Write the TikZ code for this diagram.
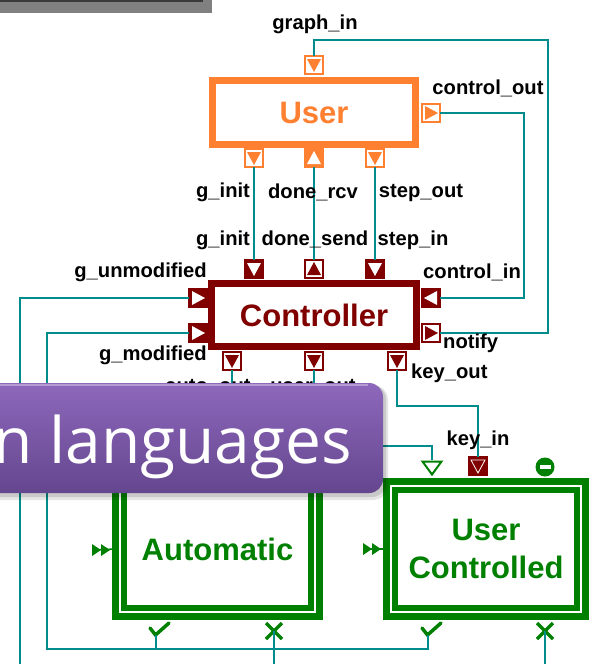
\documentclass[tikz,border=0pt]{standalone}
\usepackage{fontspec}
\setmainfont{Liberation Sans}
\newfontfamily\bannerfont{Open Sans}
\usetikzlibrary{calc}
\definecolor{wire}{RGB}{0,140,140}
\definecolor{usr}{RGB}{255,128,48}
\definecolor{ctl}{RGB}{128,0,0}
\definecolor{stc}{RGB}{0,128,0}
\definecolor{bantop}{RGB}{142,104,188}
\definecolor{banbot}{RGB}{100,70,142}
\definecolor{grayb}{RGB}{128,128,128}
\definecolor{darkb}{RGB}{58,58,58}
\newcommand\ptri[3]{\fill[#3,shift={(#1.center)},rotate=#2] (-7,-6) -- (7,-6) -- (0,7) -- cycle;}
\begin{document}
\begin{tikzpicture}[x=1pt,y=-1pt,
 lbl/.style={font=\bfseries\fontsize{20.2}{22}\selectfont,inner sep=0pt,text height=14pt,text depth=4pt},
 portout/.style={draw=#1,fill=white,line width=2pt,minimum size=18pt,inner sep=0pt,outer sep=0pt},
 portin/.style={draw=#1,fill=#1,line width=2pt,minimum size=18pt,inner sep=0pt,outer sep=0pt},
 conn/.style={draw=wire,line width=2pt},
 bigbox/.style={draw=#1,text=#1,fill=white,line width=7pt,inner sep=0pt,outer sep=0pt,font=\bfseries\fontsize{31}{36}\selectfont},
 statebox/.style={draw=stc,text=stc,fill=white,line width=7pt,inner sep=0pt,outer sep=0pt,minimum height=135pt,font=\bfseries\fontsize{31}{38}\selectfont,align=center},
 stcglyph/.style={draw=stc,line width=3.5pt}
]
\useasboundingbox (0,0) rectangle (590,664);
\clip (0,0) rectangle (590,664);
% top-left bar
\fill[grayb] (0,0) rectangle (212,13);
\fill[darkb] (0,0) rectangle (203,2);
% main boxes
\node[bigbox=usr,minimum width=203pt,minimum height=64pt] (user) at (314,112.5) {User};
\node[bigbox=ctl,minimum width=205pt,minimum height=63pt] (ctrl) at (314,315) {Controller};
% user ports
\node[portout=usr] (gin) at (314,65) {};
\node[portout=usr] (uginit) at (254,158) {};
\node[portin=usr] (udone) at (314,158) {};
\node[portout=usr] (ustep) at (375,158) {};
\node[portout=usr] (cout) at (431,113) {};
\ptri{gin}{0}{usr}
\ptri{uginit}{0}{usr}
\ptri{udone}{180}{white}
\ptri{ustep}{0}{usr}
\ptri{cout}{90}{usr}
% controller ports
\node[portin=ctl] (cginit) at (254,269) {};
\node[portout=ctl] (cdone) at (314,269) {};
\node[portin=ctl] (cstep) at (375,269) {};
\node[portin=ctl] (gunm) at (198,298) {};
\node[portin=ctl] (gmod) at (198,333) {};
\node[portin=ctl] (cin) at (431,298) {};
\node[portout=ctl] (notify) at (431,333) {};
\node[portout=ctl] (aout) at (232,361) {};
\node[portout=ctl] (uout) at (314,361) {};
\node[portout=ctl] (kout) at (397,361) {};
\ptri{cginit}{0}{white}
\ptri{cdone}{180}{ctl}
\ptri{cstep}{0}{white}
\ptri{gunm}{90}{white}
\ptri{gmod}{90}{white}
\ptri{cin}{270}{white}
\ptri{notify}{90}{ctl}
\ptri{aout}{0}{ctl}
\ptri{uout}{0}{ctl}
\ptri{kout}{0}{ctl}
% states
\node[statebox,minimum width=204pt] (auto) at (217.5,549) {Automatic};
\node[statebox,minimum width=199pt] (uc) at (486,549) {User\\Controlled};
\draw[stc,line width=5.5pt] ($(auto.north west)+(8.5,8.5)$) rectangle ($(auto.south east)+(-8.5,-8.5)$);
\draw[stc,line width=5.5pt] ($(uc.north west)+(8.5,8.5)$) rectangle ($(uc.south east)+(-8.5,-8.5)$);
% key_in port, input triangle, minus
\node[portin=ctl] (kin) at (478,466) {};
\filldraw[fill=ctl,draw=white,line width=0.8pt,shift={(kin.center)}] (-7,-6) -- (7,-6) -- (0,7) -- cycle;
\coordinate (uctri) at (432,460);
\draw[stc,line width=2pt,line join=miter,shift={(uctri)}] (-9.5,1.5) -- (9.5,1.5) -- (0,14.5) -- cycle;
\node[circle,fill=stc,minimum size=19pt,inner sep=0pt] (minus) at (545,467) {};
\fill[white] ($(minus.center)+(-5.5,-1.6)$) rectangle ($(minus.center)+(5.5,1.6)$);
% entry arrows
\fill[stc] (92,544) -- (101,550) -- (92,556) -- cycle;
\fill[stc] (101,544) -- (110,550) -- (101,556) -- cycle;
\draw[stc,line width=1.5pt] (92,550) -- (auto.west);
\fill[stc] (363,543) -- (372,549) -- (363,555) -- cycle;
\fill[stc] (372,543) -- (381,549) -- (372,555) -- cycle;
\draw[stc,line width=1.5pt] (363,549) -- (383,549);
% checks and crosses
\coordinate (achk) at (155.5,635);
\coordinate (ucchk) at (427.5,635);
\coordinate (ax) at (274,631);
\coordinate (ucx) at (545,631);
\draw[stcglyph,line cap=round] (150,628) -- (achk) -- (169,623);
\draw[stcglyph,line cap=round] (422,628) -- (ucchk) -- (441,623);
\draw[stcglyph] ($(ax)+(-8,-8)$) -- ($(ax)+(8,8)$) ($(ax)+(8,-8)$) -- ($(ax)+(-8,8)$);
\draw[stcglyph] ($(ucx)+(-8,-8)$) -- ($(ucx)+(8,8)$) ($(ucx)+(8,-8)$) -- ($(ucx)+(-8,8)$);
% wires
\coordinate (w1) at (548,40);
\coordinate (w2) at (524,113);
\coordinate (w3) at (20,670);
\coordinate (w4) at (47,649);
\coordinate (w5) at (478,406);
\coordinate (w6) at (432,446);
\coordinate (w7) at (232,470);
\coordinate (w8) at (274,670);
\coordinate (w9) at (545,670);
\draw[conn] (gin.north) |- (w1) |- (notify.east);
\draw[conn] (cout.east) -- (w2) |- (cin.east);
\draw[conn] (uginit.south) -- (cginit.north);
\draw[conn] (udone.south) -- (cdone.north);
\draw[conn] (ustep.south) -- (cstep.north);
\draw[conn] (gunm.west) -| (w3);
\draw[conn] (gmod.west) -| (w4) -| (ucchk);
\draw[conn] (achk) -- (achk |- w4);
\draw[conn] (ax) -- (w8);
\draw[conn] (ucx) -- (w9);
\draw[conn] (kout.south) |- (w5) -- (kin.north);
\draw[conn] (uout.south) |- (w6) -- (uctri);
\draw[conn] (aout.south) -- (w7);
% labels
\node[lbl] (lgin) at (315,24) {graph\_in};
\node[lbl] (lcout) at (488,89) {control\_out};
\node[lbl] (lginit1) at (223,192) {g\_init};
\node[lbl] (ldrcv) at (313,193) {done\_rcv};
\node[lbl] (lsout) at (421,192) {step\_out};
\node[lbl] (lginit2) at (223,240) {g\_init};
\node[lbl] (ldsend) at (315,240) {done\_send};
\node[lbl] (lsin) at (413,240) {step\_in};
\node[lbl,anchor=east] (lgunm) at (207,272) {g\_unmodified};
\node[lbl,anchor=east] (lgmod) at (207,355) {g\_modified};
\node[lbl,anchor=west] (lcin) at (423,273) {control\_in};
\node[lbl,anchor=west] (lnot) at (443,343) {notify};
\node[lbl,anchor=west] (lkout) at (411,373) {key\_out};
\node[lbl] (laout) at (208,387) {auto\_out};
\node[lbl] (luout) at (313,387) {user\_out};
\node[lbl] (lkin) at (478,440) {key\_in};
% banner
\fill[black,opacity=0.10,rounded corners=15pt] (-20,385) rectangle (388,500);
\fill[black,opacity=0.12,rounded corners=14pt] (-20,385) rectangle (386,497);
\shade[top color=bantop,bottom color=banbot,rounded corners=14pt] (-20,383) rectangle (383,493);
\draw[white,opacity=0.35,line width=1.2pt] (-20,385) -- (368,385);
\node[anchor=base east,text=white,inner sep=0pt,font=\bannerfont\fontsize{64}{70}\selectfont] (btext) at (352,463) {n languages};
\end{tikzpicture}
\end{document}
